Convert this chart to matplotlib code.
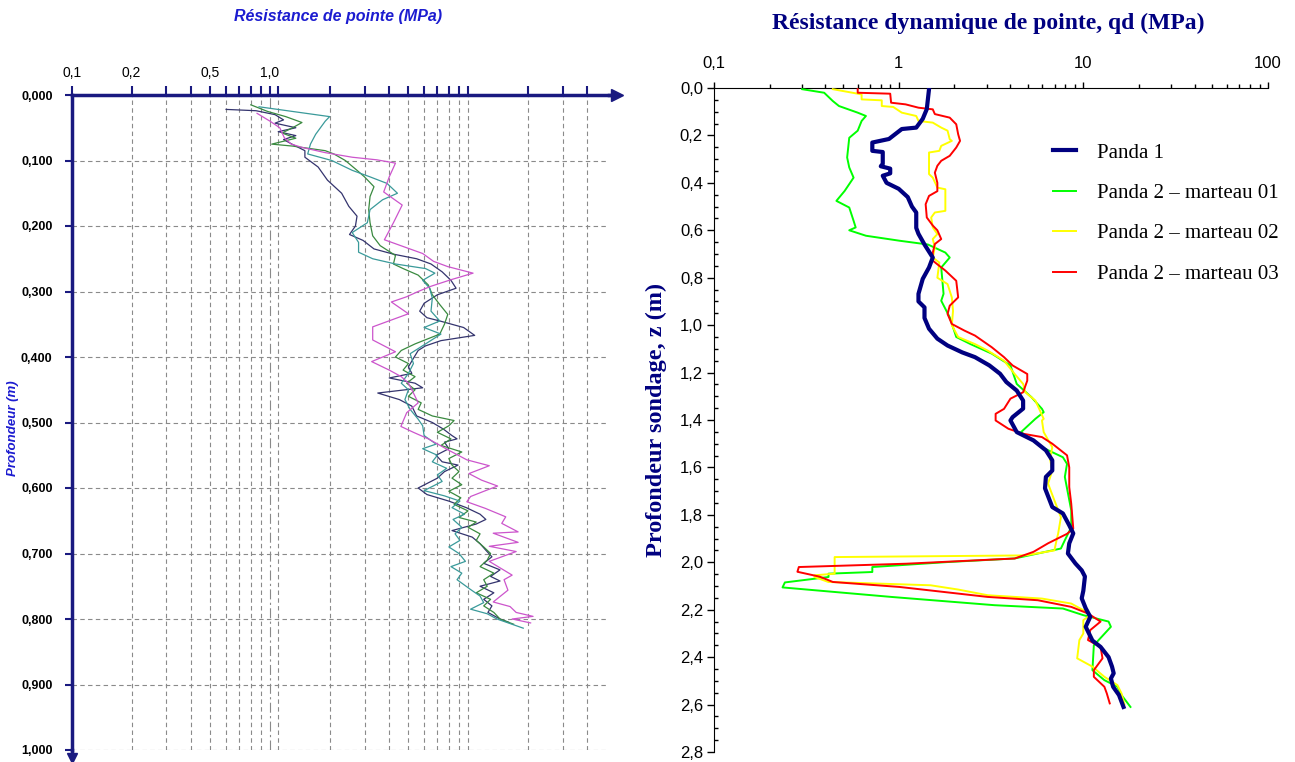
import matplotlib.pyplot as plt
import matplotlib.ticker as ticker
import numpy as np

# ---------------- left chart : Résistance de pointe (MPa) vs profondeur (m)
d_s1 = [0.022, 0.024, 0.030, 0.038, 0.043, 0.050, 0.056, 0.062, 0.068, 0.075, 0.085, 0.095, 0.110, 0.130, 0.150,
        0.170, 0.185, 0.200, 0.213, 0.222, 0.235, 0.243, 0.250, 0.258, 0.270, 0.283, 0.295, 0.305, 0.318, 0.330,
        0.340, 0.345, 0.355, 0.367, 0.375, 0.383, 0.390, 0.402, 0.415, 0.425, 0.432, 0.440, 0.447, 0.455, 0.465,
        0.475, 0.490, 0.500, 0.510, 0.520, 0.525, 0.530, 0.540, 0.550, 0.560, 0.565, 0.575, 0.585, 0.600, 0.610,
        0.620, 0.630, 0.640, 0.648, 0.655, 0.665, 0.675, 0.685, 0.695, 0.705, 0.715, 0.725, 0.735, 0.742, 0.750,
        0.760, 0.770, 0.780, 0.790, 0.800, 0.805]
q_s1 = [0.60, 0.85, 1.06, 1.17, 1.06, 1.35, 1.10, 1.35, 1.17, 1.29, 1.50, 1.50, 1.75, 1.95, 2.30,
        2.50, 2.75, 2.70, 2.52, 2.95, 3.35, 4.2, 5.5, 6.5, 7.4, 8.2, 8.7, 7.0, 6.0, 5.7,
        6.2, 7.2, 9.5, 10.8, 7.3, 6.1, 5.6, 5.3, 5.0, 5.2, 4.0, 5.4, 5.9, 3.5, 4.5,
        5.2, 5.5, 6.6, 7.5, 8.3, 8.8, 7.6, 8.0, 6.9, 7.4, 8.9, 7.6, 7.0, 5.6, 6.2,
        8.0, 9.8, 11.5, 12.3, 11.0, 8.3, 10.5, 11.5, 12.3, 13.2, 12.0, 14.5, 13.0, 14.5, 11.5,
        13.5, 12.0, 13.2, 12.6, 14.5, 16]

d_s2 = [0.015, 0.025, 0.033, 0.042, 0.050, 0.058, 0.066, 0.075, 0.078, 0.085, 0.090, 0.100, 0.115, 0.125,
        0.140, 0.155, 0.175, 0.195, 0.215, 0.230, 0.245, 0.258, 0.265, 0.275, 0.290, 0.305, 0.320, 0.335, 0.350,
        0.365, 0.380, 0.390, 0.400, 0.410, 0.420, 0.430, 0.440, 0.450, 0.460, 0.470, 0.480, 0.490, 0.497, 0.505,
        0.515, 0.525, 0.535, 0.545, 0.555, 0.565, 0.575, 0.585, 0.595, 0.605, 0.615, 0.625, 0.635, 0.645, 0.652,
        0.660, 0.670, 0.680, 0.690, 0.700, 0.710, 0.720, 0.730, 0.740, 0.750, 0.760, 0.770, 0.780, 0.790, 0.800,
        0.808]
q_s2 = [0.80, 0.97, 1.2, 1.45, 1.3, 1.15, 1.35, 1.02, 1.3, 1.9, 2.1, 2.4, 2.75, 3.0,
        3.35, 3.2, 3.15, 3.2, 3.3, 3.6, 4.3, 4.2, 4.7, 5.6, 6.3, 6.6, 7.2, 7.9, 7.6,
        7.2, 5.4, 4.6, 4.3, 5.0, 4.7, 5.4, 4.9, 5.4, 5.0, 5.8, 5.6, 6.6, 8.5, 8.0,
        7.0, 8.2, 7.3, 9.3, 8.0, 8.3, 9.0, 8.3, 9.3, 8.0, 9.2, 8.5, 10, 9.0, 11.0,
        10.0, 11.5, 11.0, 12.0, 13.0, 12.5, 11.5, 13.5, 12.0, 12.5, 11.0, 13.0, 12.0, 13.5, 14.5,
        17]

d_s3 = [0.018, 0.033, 0.040, 0.060, 0.075, 0.090, 0.100, 0.115, 0.125, 0.135, 0.150, 0.160, 0.175, 0.195,
        0.210, 0.225, 0.240, 0.250, 0.258, 0.265, 0.272, 0.283, 0.295, 0.310, 0.330, 0.345, 0.355, 0.365,
        0.380, 0.395, 0.410, 0.425, 0.440, 0.450, 0.465, 0.480, 0.495, 0.505, 0.520, 0.533, 0.540, 0.550,
        0.560, 0.570, 0.580, 0.590, 0.604, 0.612, 0.620, 0.630, 0.640, 0.648, 0.660, 0.670, 0.680, 0.690,
        0.700, 0.712, 0.720, 0.730, 0.740, 0.755, 0.765, 0.775, 0.785, 0.792, 0.800, 0.814]
q_s3 = [0.88, 2.0, 1.9, 1.7, 1.6, 1.55, 2.05, 2.6, 3.2, 3.9, 4.4, 3.7, 3.2, 3.1,
        2.6, 2.8, 2.8, 3.3, 4.3, 6.1, 6.8, 5.9, 6.4, 6.6, 6.5, 7.2, 6.0, 7.3,
        6.1, 5.1, 5.3, 5.0, 4.6, 5.0, 4.8, 5.1, 5.6, 5.9, 6.0, 6.9, 5.9, 7.0,
        6.6, 7.8, 7.0, 7.4, 6.0, 7.6, 9.1, 8.3, 9.6, 8.4, 9.3, 8.6, 9.1, 8.0,
        9.0, 9.7, 8.2, 9.3, 8.8, 10.3, 11.5, 12.0, 10.3, 12.5, 14, 19]

d_s4 = [0.028, 0.040, 0.050, 0.065, 0.075, 0.080, 0.088, 0.095, 0.099, 0.104, 0.125, 0.148, 0.168, 0.195,
        0.221, 0.242, 0.254, 0.262, 0.272, 0.282, 0.292, 0.300, 0.308, 0.316, 0.334, 0.354, 0.374, 0.392,
        0.407, 0.420, 0.430, 0.440, 0.455, 0.470, 0.485, 0.506, 0.515, 0.525, 0.542, 0.557, 0.566, 0.578,
        0.588, 0.597, 0.603, 0.613, 0.621, 0.631, 0.644, 0.654, 0.667, 0.669, 0.683, 0.689, 0.697, 0.712,
        0.733, 0.740, 0.756, 0.774, 0.781, 0.790, 0.796, 0.800, 0.806]
q_s4 = [0.86, 1.0, 1.12, 1.18, 1.28, 1.45, 1.9, 2.6, 3.47, 4.3, 4.0, 3.75, 4.65, 4.2,
        3.78, 5.9, 6.7, 7.9, 10.6, 8.2, 6.5, 5.6, 4.9, 4.1, 5.0, 3.3, 3.3, 4.3,
        3.26, 4.0, 4.6, 5.0, 5.3, 5.6, 4.9, 4.58, 5.3, 6.3, 7.95, 9.86, 12.8, 10.1,
        11.7, 14.1, 12.5, 10.3, 9.86, 12.2, 15.5, 14.8, 17.9, 13.4, 17.9, 12.8, 17.5, 12.8,
        16.7, 15.2, 15.9, 13.4, 16.3, 17.5, 21.3, 16.7, 20.7]

left_ticks = [0.1, 0.2, 0.3, 0.4, 0.5, 0.6, 0.7, 0.8, 0.9, 1.0, 1.1, 2, 3, 4, 5, 6, 7, 8, 9, 10, 20, 30, 40]
left_labels = {0.1: '0,1', 0.2: '0,2', 0.5: '0,5', 1.0: '1,0'}
left_depths = [0.0, 0.1, 0.2, 0.3, 0.4, 0.5, 0.6, 0.7, 0.8, 0.9, 1.0]

# ---------------- right chart : Panda
z_p1 = [0.005, 0.089, 0.13, 0.167, 0.173, 0.215, 0.23, 0.265, 0.27, 0.32, 0.33, 0.34, 0.36, 0.37, 0.40,
        0.425, 0.46, 0.50, 0.525, 0.59, 0.615, 0.66, 0.715, 0.757, 0.805, 0.868, 0.90, 0.925, 0.97, 1.015,
        1.057, 1.086, 1.115, 1.135, 1.17, 1.205, 1.24, 1.276, 1.318, 1.352, 1.388, 1.402, 1.451, 1.486, 1.528,
        1.57, 1.613, 1.64, 1.688, 1.767, 1.794, 1.844, 1.878, 1.92, 1.963, 2.005, 2.034, 2.06, 2.12, 2.152,
        2.194, 2.23, 2.272, 2.33, 2.357, 2.40, 2.44, 2.468, 2.49, 2.525, 2.56, 2.61]
q_p1 = [1.46, 1.42, 1.35, 1.245, 1.04, 0.886, 0.72, 0.72, 0.82, 0.82, 0.80, 0.90, 0.90, 0.82, 0.86,
        1.0, 1.12, 1.18, 1.245, 1.245, 1.28, 1.38, 1.53, 1.46, 1.35, 1.28, 1.28, 1.38, 1.38, 1.46,
        1.62, 1.84, 2.21, 2.59, 3.10, 3.54, 3.83, 4.36, 4.72, 4.72, 4.14, 4.03, 4.36, 5.37, 6.27,
        6.79, 6.79, 6.27, 6.2, 6.79, 7.75, 8.39, 8.82, 8.39, 8.25, 9.06, 9.8, 10.2, 10.0, 9.8,
        10.3, 10.9, 10.3, 11.2, 12.4, 13.7, 14.3, 14.6, 14.1, 14.5, 15.6, 16.5]

z_m1 = [0.005, 0.02, 0.055, 0.076, 0.104, 0.118, 0.139, 0.18, 0.21, 0.293,
        0.335, 0.378, 0.434, 0.476, 0.504, 0.56, 0.588, 0.60, 0.623, 0.644,
        0.66, 0.694, 0.715, 0.757, 0.868, 0.897, 0.967, 1.05, 1.08, 1.12,
        1.17, 1.248, 1.304, 1.353, 1.367, 1.395, 1.451, 1.515, 1.557, 1.585,
        1.64, 1.781, 1.852, 1.907, 1.942, 1.984, 1.999, 2.02, 2.041, 2.048,
        2.062, 2.085, 2.106, 2.146, 2.181, 2.195, 2.223, 2.25, 2.272, 2.35,
        2.455, 2.497, 2.525, 2.56, 2.61]
q_m1 = [0.30, 0.395, 0.44, 0.475, 0.60, 0.665, 0.63, 0.60, 0.54, 0.526,
        0.54, 0.57, 0.51, 0.46, 0.54, 0.57, 0.585, 0.54, 0.665, 1.01,
        1.44, 1.79, 1.89, 1.70, 1.75, 1.70, 1.89, 2.05, 2.45, 3.19,
        4.03, 4.36, 5.24, 5.97, 6.1, 5.5, 4.6, 5.97, 7.75, 8.16,
        7.94, 8.6, 8.6, 7.94, 7.56, 4.24, 1.84, 0.72, 0.72, 0.417,
        0.417, 0.242, 0.235, 0.91, 3.31, 7.75, 10.0, 13.7, 14.1, 11.4,
        11.2, 13.0, 15.3, 16.1, 18.0]

z_m2 = [0.005, 0.027, 0.048, 0.052, 0.076, 0.08, 0.104, 0.118, 0.139, 0.146,
        0.167, 0.18, 0.216, 0.223, 0.244, 0.265, 0.272, 0.363, 0.378, 0.42,
        0.427, 0.518, 0.525, 0.546, 0.588, 0.616, 0.637, 0.672, 0.715, 0.736,
        0.80, 0.827, 0.883, 0.94, 1.0, 1.05, 1.08, 1.107, 1.15, 1.206,
        1.248, 1.283, 1.318, 1.395, 1.402, 1.451, 1.515, 1.564, 1.613, 1.668,
        1.739, 1.81, 1.88, 1.907, 1.95, 1.971, 1.978, 2.048, 2.055, 2.062,
        2.083, 2.097, 2.115, 2.139, 2.153, 2.174, 2.202, 2.223, 2.244, 2.30,
        2.328, 2.405, 2.44, 2.483, 2.518, 2.553, 2.60]
q_m2 = [0.44, 0.63, 0.63, 0.81, 0.81, 0.935, 1.04, 1.245, 1.28, 1.53,
        1.70, 1.84, 1.89, 1.94, 1.70, 1.66, 1.46, 1.46, 1.53, 1.62,
        1.79, 1.79, 1.57, 1.50, 1.53, 1.62, 1.53, 1.57, 1.53, 1.66,
        1.62, 1.84, 1.94, 1.97, 1.94, 2.1, 2.59, 3.03, 3.72, 4.25,
        4.72, 4.85, 5.5, 6.1, 5.97, 6.1, 6.79, 6.6, 6.79, 6.44,
        6.97, 7.56, 7.3, 7.16, 6.97, 4.85, 0.45, 0.45, 0.35, 0.35,
        0.416, 1.49, 2.1, 3.04, 5.97, 8.6, 10.0, 10.9, 10.0, 10.0,
        9.52, 9.26, 11.2, 13.0, 15.3, 16.1, 16.7]

z_m3 = [0.005, 0.02, 0.024, 0.062, 0.069, 0.083, 0.09, 0.11, 0.125, 0.153,
        0.195, 0.223, 0.251, 0.286, 0.307, 0.328, 0.357, 0.40, 0.435, 0.455,
        0.49, 0.546, 0.58, 0.60, 0.637, 0.658, 0.694, 0.728, 0.75, 0.77,
        0.813, 0.883, 0.918, 0.953, 0.995, 1.023, 1.044, 1.093, 1.135, 1.17,
        1.206, 1.234, 1.283, 1.31, 1.353, 1.374, 1.402, 1.437, 1.458, 1.472,
        1.50, 1.549, 1.60, 1.683, 1.753, 1.858, 1.88, 1.92, 1.956, 1.984,
        2.006, 2.02, 2.04, 2.061, 2.083, 2.104, 2.146, 2.16, 2.188, 2.216,
        2.25, 2.286, 2.328, 2.357, 2.405, 2.455, 2.483, 2.525, 2.553, 2.595]
q_m3 = [0.60, 0.60, 0.90, 0.91, 1.09, 1.28, 1.53, 1.57, 1.89, 2.05,
        2.1, 2.15, 2.05, 1.89, 1.70, 1.62, 1.57, 1.62, 1.62, 1.46,
        1.40, 1.42, 1.53, 1.62, 1.70, 1.57, 1.53, 1.53, 1.66, 1.79,
        2.05, 2.1, 1.89, 1.84, 1.94, 2.27, 2.59, 3.19, 3.72, 4.14,
        4.97, 4.97, 4.72, 4.03, 3.72, 3.35, 3.35, 3.93, 4.72, 5.97,
        6.79, 8.16, 8.39, 8.39, 8.6, 8.82, 8.16, 6.44, 5.37, 4.25,
        1.1, 0.288, 0.283, 0.375, 0.44, 1.01, 3.03, 5.67, 8.6, 10.6,
        12.4, 10.9, 10.6, 12.4, 12.7, 11.4, 11.4, 13.0, 13.4, 13.9]

W, H = 1295, 762
navy = '#1a1a80'
sans = ['Liberation Sans', 'DejaVu Sans']
narrow = ['Liberation Sans Narrow', 'Liberation Sans', 'DejaVu Sans']
serif = ['Liberation Serif', 'DejaVu Serif']


def box(x0, y0, x1, y1):
    return [x0 / W, 1 - y1 / H, (x1 - x0) / W, (y1 - y0) / H]


def comma(fmt):
    return ticker.FuncFormatter(lambda v, p: fmt.format(v).replace('.', ','))


fig = plt.figure(figsize=(W / 100, H / 100), dpi=100)

# ================= left chart
ax1 = fig.add_axes(box(72, 95, 609, 750))
ax1.set_xscale('log')
ax1.set_xlim(0.1, 51.5)
ax1.set_ylim(1.0, 0.0)

for v in left_ticks[1:]:
    if v == 1.0:
        ax1.axvline(v, color='#8a8a8a', lw=0.8, ls=(0, (9, 3, 2, 3)), zorder=0)
    else:
        ax1.axvline(v, color='#8a8a8a', lw=0.8, ls=(0, (4, 3)), zorder=0)
for d in left_depths[1:]:
    ax1.axhline(d, color='#8a8a8a', lw=0.8, ls=(0, (4, 3)), zorder=0)

ax1.plot(q_s1, d_s1, color='#34346e', lw=0.9)
ax1.plot(q_s2, d_s2, color='#3a8a40', lw=0.9)
ax1.plot(q_s3, d_s3, color='#3a9a9a', lw=0.9)
ax1.plot(q_s4, d_s4, color='#cc55cc', lw=0.9)

ax1.xaxis.set_ticks_position('top')
ax1.xaxis.set_minor_locator(ticker.NullLocator())
ax1.set_xticks(left_ticks)
ax1.set_xticklabels([left_labels.get(v, '') for v in left_ticks], family=sans, fontsize=10)
ax1.set_yticks(left_depths)
ax1.yaxis.set_major_formatter(comma('{:.3f}'))
ax1.tick_params(axis='x', direction='out', length=6.5, width=1.5, color=navy, pad=4)
ax1.tick_params(axis='y', direction='out', length=5, width=1.5, color=navy, pad=9)
for t in ax1.get_yticklabels():
    t.set_fontsize(9)
    t.set_fontweight('bold')
    t.set_family(sans)
for s in ['right', 'bottom']:
    ax1.spines[s].set_visible(False)
for s in ['top', 'left']:
    ax1.spines[s].set_color(navy)
    ax1.spines[s].set_linewidth(2.5)
# arrow heads
ax1.plot([1.0, 1.012], [1.0, 1.0], color=navy, lw=2.5, transform=ax1.transAxes, clip_on=False)
ax1.plot([1.014], [1.0], marker='>', ms=8, color=navy, transform=ax1.transAxes, clip_on=False)
ax1.plot([0.0, 0.0], [0.0, -0.01], color=navy, lw=2.5, transform=ax1.transAxes, clip_on=False)
ax1.plot([0.0], [-0.012], marker='v', ms=7, color=navy, transform=ax1.transAxes, clip_on=False)

fig.text(338 / W, 1 - 17 / H, 'Résistance de pointe (MPa)', ha='center', va='center',
         fontsize=11.5, style='italic', weight='bold', color='#1c1cd0', family=sans)
fig.text(13 / W, 1 - 428 / H, 'Profondeur (m)', ha='center', va='center', rotation=90,
         fontsize=9.5, style='italic', weight='bold', color='#1c1cd0', family=sans)

# ================= right chart
ax2 = fig.add_axes(box(714, 88, 1268, 752))
ax2.set_xscale('log')
ax2.set_xlim(0.1, 100)
ax2.set_ylim(2.8, 0.0)

ax2.plot(q_p1, z_p1, color='#000080', lw=3, label='Panda 1', zorder=4)
ax2.plot(q_m1, z_m1, color='#00ff00', lw=1.4, label='Panda 2 – marteau 01', zorder=3)
ax2.plot(q_m2, z_m2, color='#ffff00', lw=1.4, label='Panda 2 – marteau 02', zorder=3)
ax2.plot(q_m3, z_m3, color='#ff0000', lw=1.4, label='Panda 2 – marteau 03', zorder=3)

ax2.xaxis.set_ticks_position('top')
ax2.set_xticks([0.1, 1, 10, 100])
ax2.xaxis.set_major_formatter(ticker.FuncFormatter(lambda v, p: ('{:g}'.format(v)).replace('.', ',')))
ax2.xaxis.set_minor_locator(ticker.LogLocator(base=10, subs=np.arange(2, 10)))
ax2.xaxis.set_minor_formatter(ticker.NullFormatter())
ax2.set_yticks(np.arange(0, 2.81, 0.2))
ax2.yaxis.set_major_formatter(comma('{:.1f}'))
ax2.yaxis.set_minor_locator(ticker.MultipleLocator(0.05))
ax2.tick_params(axis='x', which='major', direction='out', length=4, width=1, pad=8)
ax2.tick_params(axis='x', which='minor', direction='out', length=3, width=1)
ax2.tick_params(axis='y', which='major', direction='out', length=5, width=1, pad=3)
ax2.tick_params(axis='y', which='minor', direction='in', length=3, width=1)
for t in ax2.get_xticklabels() + ax2.get_yticklabels():
    t.set_fontsize(12)
    t.set_family(narrow)
for s in ['right', 'bottom']:
    ax2.spines[s].set_visible(False)

fig.text(988 / W, 1 - 23 / H, 'Résistance dynamique de pointe, qd (MPa)', ha='center', va='center',
         fontsize=17, weight='bold', color='#000080', family=serif)
fig.text(656 / W, 1 - 420 / H, 'Profondeur sondage, z (m)', ha='center', va='center', rotation=90,
         fontsize=17.5, weight='bold', color='#000080', family=serif)

leg = ax2.legend(loc='upper left', bbox_to_anchor=(1053 / W, 1 - 143 / H), bbox_transform=fig.transFigure,
                 frameon=False, borderpad=0, borderaxespad=0, handlelength=1.1, handletextpad=1.0,
                 labelspacing=1.0, prop={'family': serif, 'size': 15})

fig.savefig('out.png', dpi=100)
